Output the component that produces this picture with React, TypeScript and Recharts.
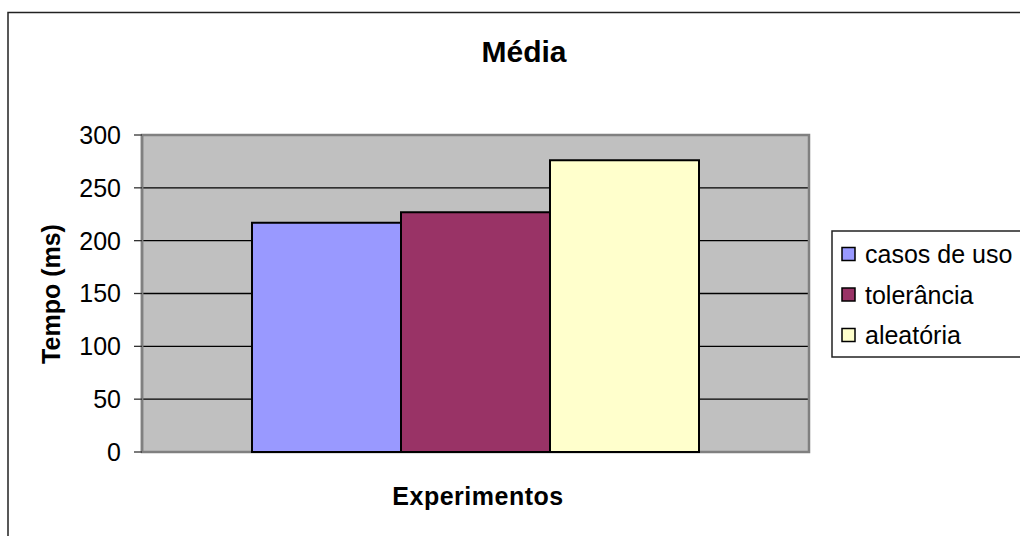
import React from "react";
import { BarChart, Bar, XAxis, YAxis, CartesianGrid, ReferenceArea } from "recharts";

const categories = ["Experimentos"];
const seriesNames = ["casos de uso", "tolerância", "aleatória"];
const seriesKeys = ["casos", "tolerancia", "aleatoria"];
const casosDeUso = [217];
const tolerancia = [227];
const aleatoria = [276];
const yTicks = [0, 50, 100, 150, 200, 250, 300];
const colors = ["#9999FF", "#993366", "#FFFFCC"];

const data = categories.map((c, i) => ({
  name: c,
  casos: casosDeUso[i],
  tolerancia: tolerancia[i],
  aleatoria: aleatoria[i],
}));

const FONT = '"Liberation Sans", Arial, Helvetica, sans-serif';

export default function App() {
  return (
    <div style={{ position: "absolute", left: 0, top: 0, width: 1020, height: 536, overflow: "hidden", background: "#fff", fontFamily: FONT }}>
      <BarChart
        width={1020}
        height={536}
        data={data}
        margin={{ top: 135, right: 211, bottom: 84, left: 82 }}
        barGap={0}
        barSize={149}
      >
        <CartesianGrid vertical={false} horizontal={true} stroke="#000" strokeWidth={1.3} fill="#C0C0C0" fillOpacity={1} />
        <XAxis dataKey="name" hide />
        <YAxis
          width={60}
          domain={[0, 300]}
          ticks={yTicks}
          interval={0}
          axisLine={{ stroke: "#808080", strokeWidth: 2.5 }}
          tickLine={{ stroke: "#333", strokeWidth: 1.3 }}
          tickSize={8}
          tickMargin={13}
          tick={{ fill: "#000", fontSize: 25, fontFamily: FONT }}
        />
        {seriesKeys.map((k, i) => (
          <Bar key={k} dataKey={k} name={seriesNames[i]} fill={colors[i]} stroke="#000" strokeWidth={2} isAnimationActive={false} />
        ))}
        <ReferenceArea y1={0} y2={300} fill="none" stroke="#808080" strokeWidth={2.5} ifOverflow="visible" />
      </BarChart>
      <svg width={1020} height={536} style={{ position: "absolute", left: 0, top: 0, pointerEvents: "none" }}>
        <rect x={8} y={12.5} width={1100} height={600} fill="none" stroke="#222" strokeWidth={1.5} />
        <text x={524} y={62} textAnchor="middle" fontFamily={FONT} fontSize={30} fontWeight="bold" fill="#000">Média</text>
        <text x={60} y={294} transform="rotate(-90 60 294)" textAnchor="middle" fontFamily={FONT} fontSize={25} fontWeight="bold" fill="#000">Tempo (ms)</text>
        <text x={478} y={505} textAnchor="middle" fontFamily={FONT} fontSize={25} fontWeight="bold" fill="#000" letterSpacing={0.5}>Experimentos</text>
        <rect x={832} y={231} width={250} height={126} fill="#fff" stroke="#222" strokeWidth={1.5} />
        {seriesNames.map((n, i) => (
          <g key={n}>
            <rect x={842} y={247.5 + i * 40.5} width={13} height={13} fill={colors[i]} stroke="#000" strokeWidth={1.5} />
            <text x={865} y={263 + i * 40.5} fontFamily={FONT} fontSize={25} fill="#000">{n}</text>
          </g>
        ))}
      </svg>
    </div>
  );
}
